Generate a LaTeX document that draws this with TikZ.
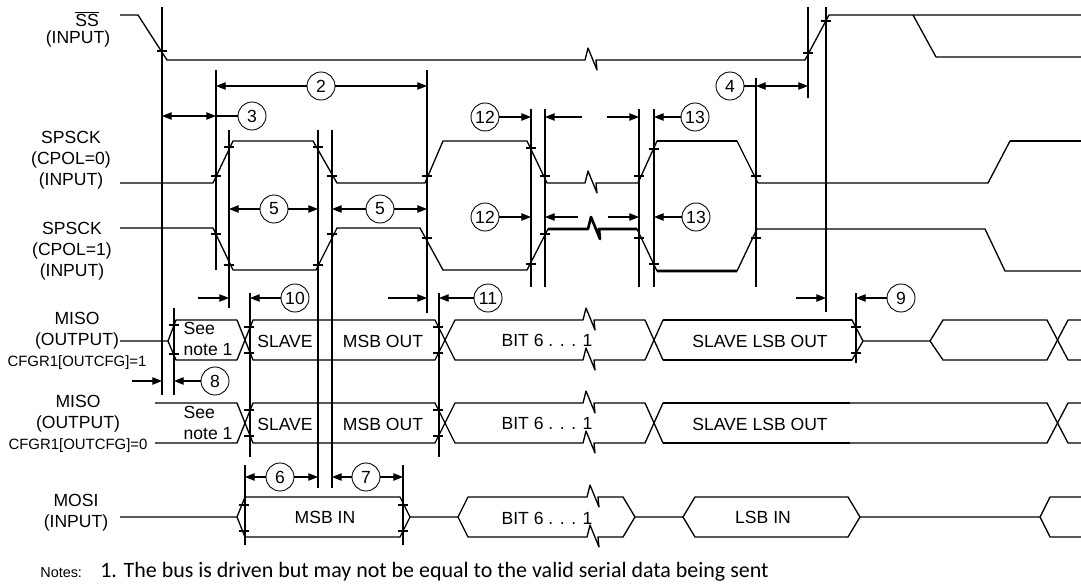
\documentclass[tikz,border=0pt]{standalone}
\usepackage{fontspec}
\setmainfont{Liberation Sans}
\newfontfamily\notefont{Carlito}
\usetikzlibrary{arrows.meta}

\begin{document}
\begin{tikzpicture}[
  x = 0.02cm, y = -0.02cm,
  > = {Triangle[length = 5.5pt, width = 4.2pt]},
  sig/.style = { line width = 0.75pt, line join = round },
  heavy/.style = { line width = 1.5pt },
  guide/.style = { line width = 0.7pt },
  lead/.style = { line width = 0.6pt },
  dim/.style = { line width = 0.6pt, -> },
  brk/.style = { insert path = { -- ++(3,-12) -- ++(9,22) -- ++(-1,-10) } },
  num/.style = {
    shape = circle,
    draw = black,
    line width = 0.5pt,
    minimum size = 0.56cm,
    inner sep = 0pt,
    fill = white,
    font = \fontsize{10}{12}\selectfont,
  },
  signame/.style = { align = center, font = \fontsize{10}{12}\selectfont },
  busname/.style = { font = \fontsize{10}{12}\selectfont },
]
  \useasboundingbox (0,0) rectangle (1081,584);

  % signal names
  \node[signame, inner sep = 0.5pt] (ssname) at (87,19) {$\overline{\mbox{SS}}$};
  \node[signame, inner sep = 0.5pt] (ssio) at (78,39) {(INPUT)};
  \node[signame] (clk0) at (71,160) {SPSCK\\(CPOL=0)\\(INPUT)};
  \node[signame] (clk1) at (72,251) {SPSCK\\(CPOL=1)\\(INPUT)};
  \node[signame] (miso1) at (77,341) {MISO\\(OUTPUT)\\{\fontsize{8.5}{10}\selectfont CFGR1[OUTCFG]=1}};
  \node[signame] (miso0) at (78,424) {MISO\\(OUTPUT)\\{\fontsize{8.5}{10}\selectfont CFGR1[OUTCFG]=0}};
  \node[signame] (mosi) at (76,513) {MOSI\\(INPUT)};

  % edge lines
  \coordinate (e1) at (162,7);
  \coordinate (e2) at (216,70);
  \coordinate (e3) at (229,130);
  \coordinate (e4) at (318,130);
  \coordinate (e5) at (332,130);
  \coordinate (e6) at (427,70);
  \coordinate (e7) at (531,109);
  \coordinate (e8) at (545,109);
  \coordinate (e9) at (639,109);
  \coordinate (e10) at (654,109);
  \coordinate (e11) at (756,78);
  \coordinate (e12) at (808,7);
  \coordinate (e13) at (826,7);
  \coordinate (e14) at (174,308);
  \coordinate (e15) at (250,293);
  \coordinate (e16) at (439,293);
  \coordinate (e17) at (856,293);
  \coordinate (e18) at (245,465);
  \coordinate (e19) at (403,465);

  \draw[guide] (e1) -- ++(0,388) (e2) -- ++(0,200) (e3) -- ++(0,178)
    (e4) -- ++(0,358) (e5) -- ++(0,358) (e6) -- ++(0,243)
    (e7) -- ++(0,178) (e8) -- ++(0,178) (e9) -- ++(0,178) (e10) -- ++(0,178)
    (e11) -- ++(0,209) (e12) -- ++(0,91) (e13) -- ++(0,305)
    (e14) -- ++(0,87) (e15) -- ++(0,164) (e16) -- ++(0,164) (e17) -- ++(0,70)
    (e18) -- ++(0,80) (e19) -- ++(0,80);

  % waveforms
  \draw[sig] (120,15) -- (138,15) -- (167,60) -- (585,60) [brk] -- (805,60) -- (829,15) -- (1081,15);
  \draw[sig] (913,15) -- (936,57) -- (1081,57);

  \draw[sig] (120,183) -- (213,183) -- (233,141) -- (313,141) -- (337,183) -- (425,183) -- (443,141)
    -- (527,141) -- (547,183) -- (585,183) [brk] -- (638,183) -- (657,141) -- (737,141) -- (758,183)
    -- (988,183) -- (1010,141) -- (1081,141);
  \draw[sig, heavy] (657,141) -- (737,141) (1010,141) -- (1081,141);

  \draw[sig] (120,228) -- (213,228) -- (233,270) -- (316,270) -- (337,228) -- (420,228) -- (443,270)
    -- (527,270) -- (548,229) -- (588,229) [brk] -- (637,229) -- (657,271) -- (737,271) -- (757,229)
    -- (985,229) -- (1005,271) -- (1081,271);
  \draw[sig, heavy] (548,229) -- (588,229) [brk] -- (637,229) (657,271) -- (737,271);

  \draw[sig] (120,341) -- (168,341) -- (176,320) -- (237,320) -- (253,360) -- (435,360) -- (455,320)
    -- (583,320) [brk] -- (645,320) -- (663,360) -- (852,360) -- (863,341) -- (930,341) -- (943,320)
    -- (1047,320) -- (1068,360) -- (1081,360);
  \draw[sig] (168,341) -- (176,360) -- (237,360) -- (253,320) -- (435,320) -- (455,360)
    -- (583,360) [brk] -- (645,360) -- (663,320) -- (852,320) -- (863,341);
  \draw[sig] (930,341) -- (943,360) -- (1047,360) -- (1068,320) -- (1081,320);
  \draw[sig, heavy] (663,320) -- (852,320) (663,360) -- (852,360);

  \draw[sig] (155,403) -- (237,403) -- (253,443) -- (435,443) -- (455,403) -- (583,403) [brk]
    -- (645,403) -- (663,443) -- (1047,443) -- (1068,403) -- (1081,403);
  \draw[sig] (155,443) -- (237,443) -- (253,403) -- (435,403) -- (455,443) -- (583,443) [brk]
    -- (645,443) -- (663,403) -- (1047,403) -- (1068,443) -- (1081,443);
  \draw[sig, heavy] (663,403) -- (850,403) (663,443) -- (850,443);

  \draw[sig] (120,517) -- (237,517) -- (245,497) -- (400,497) -- (410,517) -- (458,517) -- (468,497)
    -- (587,497) [brk] -- (623,497) -- (635,517) -- (683,517) -- (695,497) -- (848,497) -- (860,517)
    -- (1040,517) -- (1050,497) -- (1081,497);
  \draw[sig] (237,517) -- (245,537) -- (400,537) -- (410,517);
  \draw[sig] (458,517) -- (468,537) -- (587,537) [brk] -- (623,537) -- (635,517);
  \draw[sig] (683,517) -- (695,537) -- (848,537) -- (860,517);
  \draw[sig] (1040,517) -- (1050,537) -- (1081,537);

  % crossing ticks
  \draw[sig] (157,51) -- ++(10,0) (803,53) -- ++(10,0) (821,21) -- ++(10,0)
    (211,176) -- ++(10,0) (224,147) -- ++(10,0) (313,147) -- ++(10,0) (327,176) -- ++(10,0)
    (422,176) -- ++(10,0) (526,148) -- ++(10,0) (540,176) -- ++(10,0) (634,176) -- ++(10,0)
    (649,149) -- ++(10,0) (751,176) -- ++(10,0)
    (211,234) -- ++(10,0) (224,265) -- ++(10,0) (313,265) -- ++(10,0) (327,234) -- ++(10,0)
    (422,238) -- ++(10,0) (526,264) -- ++(10,0) (540,234) -- ++(10,0) (634,238) -- ++(10,0)
    (649,264) -- ++(10,0) (751,238) -- ++(10,0)
    (169,325) -- ++(10,0) (169,354) -- ++(10,0) (244,327) -- ++(10,0) (244,353) -- ++(10,0)
    (433,327) -- ++(10,0) (433,353) -- ++(10,0) (851,327) -- ++(10,0) (851,353) -- ++(10,0)
    (244,410) -- ++(10,0) (244,436) -- ++(10,0) (433,410) -- ++(10,0) (433,436) -- ++(10,0)
    (239,505) -- ++(10,0) (239,531) -- ++(10,0) (398,505) -- ++(10,0) (398,531) -- ++(10,0);

  % bus contents
  \node[busname, align = left] (see1) at (208,339) {See\\note 1};
  \node[busname] (slave1) at (285,341) {SLAVE};
  \node[busname] (msbout1) at (383,341) {MSB OUT};
  \node[busname] (bits1) at (547,340) {BIT 6 . . . 1};
  \node[busname] (lsbout1) at (760,341) {SLAVE LSB OUT};
  \node[busname, align = left] (see0) at (208,423) {See\\note 1};
  \node[busname] (slave0) at (285,424) {SLAVE};
  \node[busname] (msbout0) at (383,424) {MSB OUT};
  \node[busname] (bits0) at (547,423) {BIT 6 . . . 1};
  \node[busname] (lsbout0) at (760,424) {SLAVE LSB OUT};
  \node[busname] (msbin) at (325,517) {MSB IN};
  \node[busname] (bitsin) at (547,518) {BIT 6 . . . 1};
  \node[busname] (lsbin) at (763,517) {LSB IN};

  % timing parameters
  \node[num] (n2) at (321,86) {2};
  \node[num] (n3) at (252,116) {3};
  \node[num] (n4) at (730,86) {4};
  \node[num] (n5a) at (274,209) {5};
  \node[num] (n5b) at (380,209) {5};
  \node[num] (n12a) at (485,117) {12};
  \node[num] (n13a) at (695,117) {13};
  \node[num] (n12b) at (485,217) {12};
  \node[num] (n13b) at (696,217) {13};
  \node[num] (n10) at (295,298) {10};
  \node[num] (n11) at (488,298) {11};
  \node[num] (n9) at (901,298) {9};
  \node[num] (n8) at (215,381) {8};
  \node[num] (n6) at (280,477) {6};
  \node[num] (n7) at (366,477) {7};

  \coordinate (s12a) at (582,117);
  \coordinate (s13a) at (607,117);
  \coordinate (s12b) at (578,217);
  \coordinate (s13b) at (608,217);
  \coordinate (s10) at (198,298);
  \coordinate (s11) at (388,298);
  \coordinate (s9) at (796,298);
  \coordinate (s8) at (132,381);

  \draw[dim] (n2) -- (n2 -| e2);
  \draw[dim] (n2) -- (n2 -| e6);
  \draw[dim, <->] (n3 -| e1) -- (n3 -| e2);
  \draw[lead] (n3 -| e2) -- (n3);
  \draw[dim, <->] (n4 -| e11) -- (n4 -| e12);
  \draw[lead] (n4) -- (n4 -| e11);
  \draw[dim] (n5a) -- (n5a -| e3);
  \draw[dim] (n5a) -- (n5a -| e4);
  \draw[dim] (n5b) -- (n5b -| e5);
  \draw[dim] (n5b) -- (n5b -| e6);
  \draw[dim] (n12a) -- (n12a -| e7);
  \draw[dim] (s12a) -- (s12a -| e8);
  \draw[dim] (s13a) -- (s13a -| e9);
  \draw[dim] (n13a) -- (n13a -| e10);
  \draw[dim] (n12b) -- (n12b -| e7);
  \draw[dim] (s12b) -- (s12b -| e8);
  \draw[dim] (s13b) -- (s13b -| e9);
  \draw[dim] (n13b) -- (n13b -| e10);
  \draw[dim] (s10) -- (s10 -| e3);
  \draw[dim] (n10) -- (n10 -| e15);
  \draw[dim] (s11) -- (s11 -| e6);
  \draw[dim] (n11) -- (n11 -| e16);
  \draw[dim] (s9) -- (s9 -| e13);
  \draw[dim] (n9) -- (n9 -| e17);
  \draw[dim] (s8) -- (s8 -| e1);
  \draw[dim] (n8) -- (n8 -| e14);
  \draw[dim] (n6) -- (n6 -| e18);
  \draw[dim] (n6) -- (n6 -| e4);
  \draw[dim] (n7) -- (n7 -| e5);
  \draw[dim] (n7) -- (n7 -| e19);

  % footnote
  \node[anchor = base west, inner sep = 0pt, font = \fontsize{8.2}{10}\selectfont] (notes) at (40,577) {Notes:};
  \node[anchor = base west, inner sep = 0pt, font = \notefont\fontsize{12.5}{15}\selectfont] (note1)
    at (100,577) {1. The bus is driven but may not be equal to the valid serial data being sent};
\end{tikzpicture}
\end{document}
